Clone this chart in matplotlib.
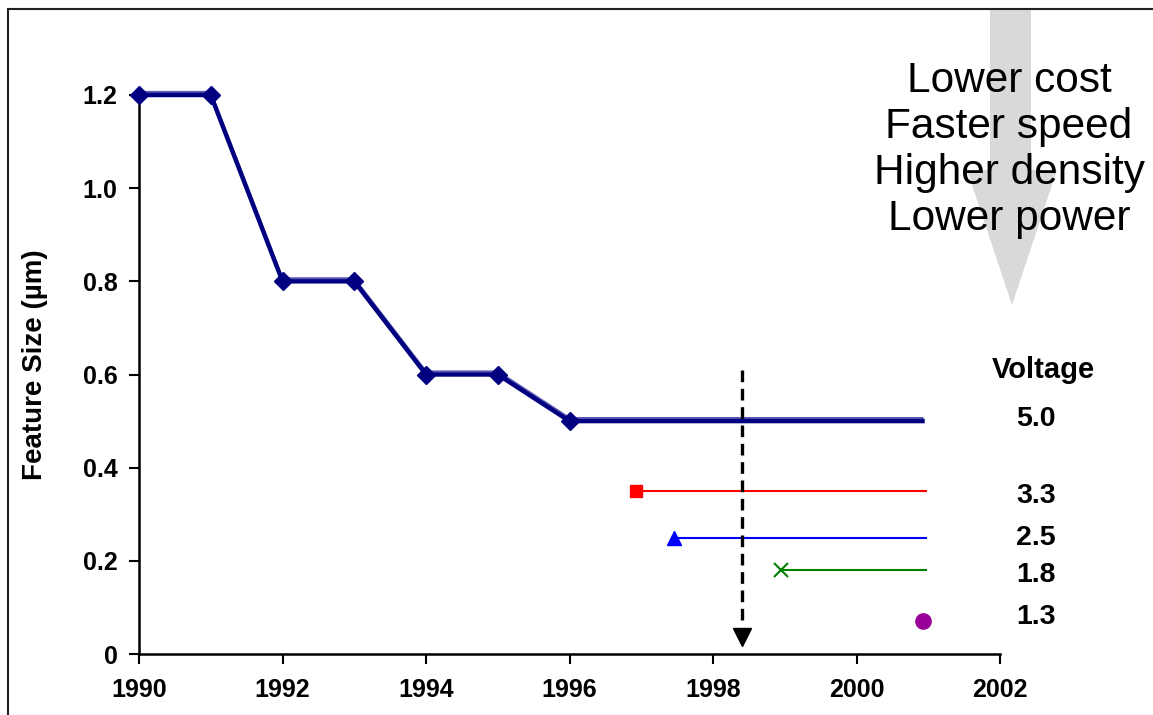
import numpy as np
import matplotlib
matplotlib.use("Agg")
import matplotlib.pyplot as plt
from matplotlib.patches import Rectangle, Polygon
from matplotlib import transforms

plt.rcParams['font.family'] = ['Liberation Sans', 'DejaVu Sans']

# Dados do gráfico
anos = [1990, 1991, 1992, 1993, 1994, 1995, 1996, 2000.92]
tamanho = [1.2, 1.2, 0.8, 0.8, 0.6, 0.6, 0.5, 0.5]

anos_33 = [1996.93, 2000.97]
tam_33 = [0.35, 0.35]
anos_25 = [1997.45, 2000.97]
tam_25 = [0.25, 0.25]
anos_18 = [1998.95, 2000.97]
tam_18 = [0.18, 0.18]
anos_13 = [2000.92]
tam_13 = [0.07]

tensoes = ['5.0', '3.3', '2.5', '1.8', '1.3']
tensoes_y = [0.505, 0.34, 0.25, 0.17, 0.08]

xticks = [1990, 1992, 1994, 1996, 1998, 2000, 2002]
yticks = [0, 0.2, 0.4, 0.6, 0.8, 1.0, 1.2]
yticklabels = ['0', '0.2', '0.4', '0.6', '0.8', '1.0', '1.2']

beneficios = ['Lower cost', 'Faster speed', 'Higher density', 'Lower power']

W, H = 1153, 715
fig = plt.figure(figsize=(W / 100, H / 100), dpi=100)
ax = fig.add_axes([139 / W, 61 / H, (1000 - 139) / W, (654 - 95) / H])

# seta cinza de fundo (coordenadas em pixels da figura)
seta = [(990, 9), (1031, 9), (1031, 170), (1057, 170), (1012, 305), (967, 170), (990, 170)]
seta = [(x / W, 1 - y / H) for x, y in seta]
fig.add_artist(Polygon(seta, closed=True, transform=fig.transFigure,
                       facecolor='#d9d9d9', edgecolor='none', zorder=0))

fig.text(1009 / W, 1 - 150 / H, '\n'.join(beneficios), ha='center', va='center',
         fontsize=30.5, linespacing=1.19, color='black', zorder=2)

# moldura externa
fig.add_artist(Rectangle((8 / W, -0.1), 1.2, 1 - 9 / H + 0.1, transform=fig.transFigure,
                         fill=False, edgecolor='#202020', lw=1.5))

# linha principal (5.0 V) com leve "sombra" clara acima
desloc = transforms.ScaledTranslation(0, 3 / 100, fig.dpi_scale_trans)
ax.plot(anos, tamanho, color='#5a5ab4', lw=1.6, transform=ax.transData + desloc,
        clip_on=False, zorder=3)
ax.plot(anos, tamanho, color='#000080', lw=3.2, marker='D', markersize=9,
        markevery=list(range(7)), markerfacecolor='#000080', markeredgecolor='#000080',
        clip_on=False, zorder=4)

ax.plot(anos_33, tam_33, color='#ff0000', lw=1.5, marker='s', markersize=8,
        markevery=[0], clip_on=False, zorder=4)
ax.plot(anos_25, tam_25, color='#0000ff', lw=1.5, marker='^', markersize=10,
        markevery=[0], clip_on=False, zorder=4)
ax.plot(anos_18, tam_18, color='#008000', lw=1.5, marker='x', markersize=10,
        markeredgewidth=1.5, markevery=[0], clip_on=False, zorder=4)
ax.plot(anos_13, tam_13, color='#990099', linestyle='none', marker='o', markersize=11,
        clip_on=False, zorder=4)

# seta tracejada
seta_x = 1998.4
ax.plot([seta_x, seta_x], [0.61, 0.06], color='black', lw=2.4, linestyle=(0, (3.5, 2)),
        clip_on=False, zorder=5)
ax.plot([seta_x], [0.037], marker='v', color='black', markersize=13, linestyle='none',
        clip_on=False, zorder=5)

# rótulos de tensão
ax.text(2002.6, 0.61, 'Voltage', ha='center', va='center', fontsize=21,
        fontweight='bold', clip_on=False)
for rotulo, y in zip(tensoes, tensoes_y):
    ax.text(2002.5, y, rotulo, ha='center', va='center', fontsize=20.5,
            fontweight='bold', clip_on=False)

ax.set_xlim(1990, 2002)
ax.set_ylim(0, 1.2)
ax.set_xticks(xticks)
ax.set_xticklabels([str(a) for a in xticks])
ax.set_yticks(yticks)
ax.set_yticklabels(yticklabels)

for s in ['top', 'right']:
    ax.spines[s].set_visible(False)
for s in ['left', 'bottom']:
    ax.spines[s].set_linewidth(1.8)
    ax.spines[s].set_color('black')

ax.tick_params(axis='both', direction='out', length=7.5, width=1.5, labelsize=18)
ax.tick_params(axis='x', pad=10)
ax.tick_params(axis='y', pad=8)
for lbl in ax.get_xticklabels() + ax.get_yticklabels():
    lbl.set_fontweight('bold')

fig.text(35 / W, 1 - 365 / H, 'Feature Size (µm)', rotation=90, ha='center', va='center',
         fontsize=20, fontweight='bold')

ax.patch.set_visible(False)
fig.savefig('out.png', dpi=100)
